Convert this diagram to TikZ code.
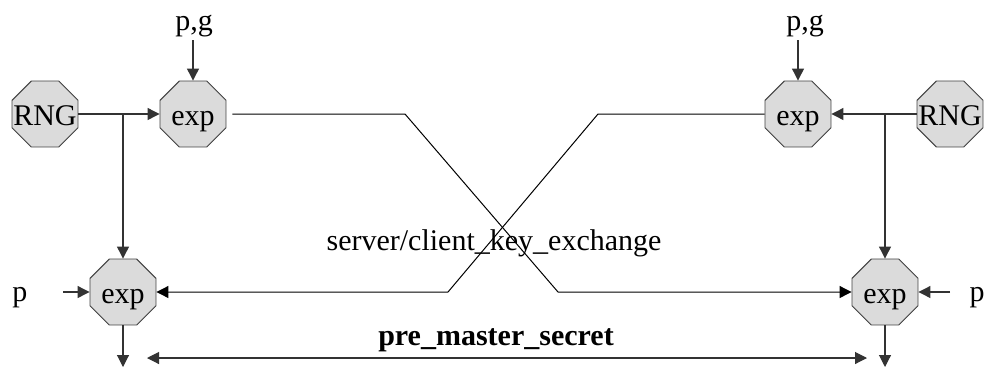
\documentclass[tikz,border=0pt]{standalone}
\usepackage{fontspec}
\setmainfont{Liberation Serif}
\usetikzlibrary{arrows.meta,shapes.geometric}
% text placed inside a block without changing the block's size
\newcommand\blocktext[1]{\raisebox{-11pt}[0pt][0pt]{\makebox[0pt]{#1}}}
\begin{document}
\begin{tikzpicture}[x=1pt,y=-1pt,
  tip/.tip={Triangle[length=12pt,width=12pt]},
  op/.style={regular polygon, regular polygon sides=8, minimum size=71.4pt,
    inner sep=0pt, draw=black!75, fill=black!14, line width=0.9pt,
    font=\fontsize{30}{36}\selectfont},
  txt/.style={font=\fontsize{30}{36}\selectfont, inner sep=0pt},
  wire/.style={draw=black!80, line width=1.1pt},
  flow/.style={wire, -tip},
  cross/.style={draw=black, line width=1pt, -tip}]
\useasboundingbox (0,0) rectangle (987,368);

% operation blocks
\node[op] (rngL) at (45,114) {\blocktext{RNG}};
\node[op] (expTL) at (193,114) {\blocktext{exp}};
\node[op] (expTR) at (798,114) {\blocktext{exp}};
\node[op] (rngR) at (950,114) {\blocktext{RNG}};
\node[op] (expBL) at (123,292) {\blocktext{exp}};
\node[op] (expBR) at (885,292) {\blocktext{exp}};

% parameter labels
\node[txt, anchor=base] (pgL) at (194,30) {p,g};
\node[txt, anchor=base] (pgR) at (805,30) {p,g};
\node[txt, anchor=base] (pL) at (20,301) {p};
\node[txt, anchor=base] (pR) at (977,301) {p};
\node[txt, anchor=base] (kx) at (494,250) {server/client\_key\_exchange};
\node[txt, anchor=base, font=\fontsize{30}{36}\selectfont\bfseries] (pms) at (496,345) {pre\_master\_secret};

% free ends and bends
\coordinate (pgLend) at (193,40);
\coordinate (pgRend) at (798,40);
\coordinate (pLend) at (63,292);
\coordinate (pRend) at (950,292);
\coordinate (brL) at (123,114);
\coordinate (brR) at (885,114);
\coordinate (outL) at (123,367);
\coordinate (outR) at (885,367);
\coordinate (a1) at (405,114);
\coordinate (a2) at (558,292);
\coordinate (b1) at (598,114);
\coordinate (b2) at (448,292);
\coordinate (pmL) at (147,358);
\coordinate (pmR) at (867,358);

% inputs
\draw[flow] (pgLend) -- (expTL);
\draw[flow] (pgRend) -- (expTR);
\draw[flow] (pLend) -- (expBL);
\draw[flow] (pRend) -- (expBR);

% random values into both exponentiations
\draw[flow] (rngL) -- (expTL);
\draw[flow] (brL) -- (expBL);
\draw[flow] (rngR) -- (expTR);
\draw[flow] (brR) -- (expBR);

% exchanged public values
\draw[cross, shorten <=6pt] (expTL.east) -- (a1) -- (a2) -- (expBR.west);
\draw[cross] (expTR.west) -- (b1) -- (b2) -- (expBL.east);

% outputs
\draw[flow] (expBL) -- (outL);
\draw[flow] (expBR) -- (outR);
\draw[wire, tip-tip] (pmL) -- (pmR);
\end{tikzpicture}
\end{document}
